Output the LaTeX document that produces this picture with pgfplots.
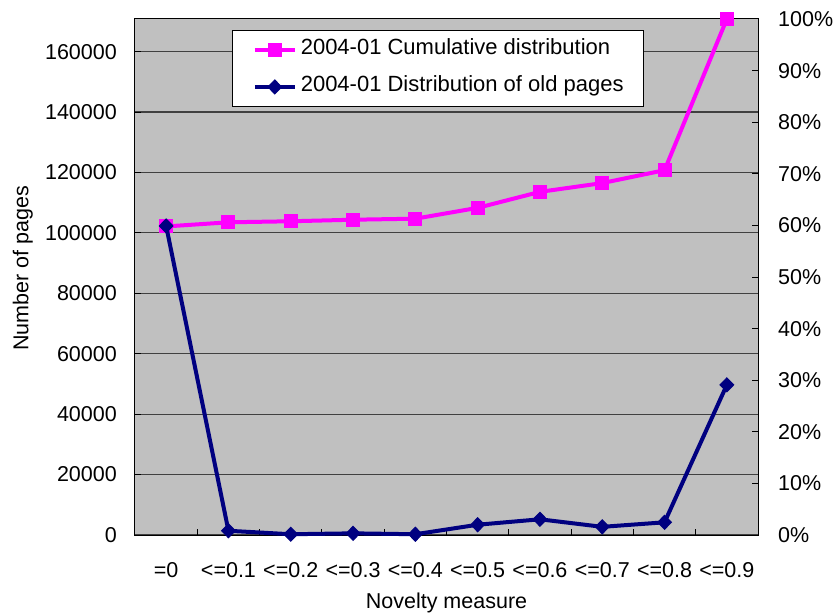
\documentclass[border=0pt]{standalone}
\usepackage{pgfplots}
\pgfplotsset{compat=1.18}
\usepackage{fontspec}
\setmainfont{Liberation Sans}
\definecolor{bggray}{HTML}{C0C0C0}
\definecolor{navyc}{HTML}{000080}
\definecolor{pinkm}{HTML}{FF00FF}
\begin{document}
\begin{tikzpicture}[font=\fontsize{21.5}{25}\selectfont]
\pgfplotsset{
  base/.style={scale only axis, width=623pt, height=516pt, xmin=-0.5, xmax=9.5,
    at={(0,0)}, anchor=south west, clip=false, major tick length=6pt, scaled y ticks=false},
}
\begin{axis}[base, name=ax, ymin=0, ymax=170800,
  axis background/.style={fill=bggray},
  axis line style={line width=1pt, black},
  tick align=inside,
  ytick={0,20000,...,160000},
  yticklabels={0,20000,40000,60000,80000,100000,120000,140000,160000},
  ytick pos=left,
  yticklabel style={anchor=east, inner sep=0pt, xshift=-18pt},
  xtick={0.5,1.5,...,8.5}, xticklabels={}, xtick pos=bottom,
  extra x ticks={0,1,2,3,4,5,6,7,8,9},
  extra x tick labels={{=0},{<=0.1},{<=0.2},{<=0.3},{<=0.4},{<=0.5},{<=0.6},{<=0.7},{<=0.8},{<=0.9}},
  extra x tick style={grid=none, major tick length=0pt,
    xticklabel style={anchor=base, inner sep=0pt, yshift=-42pt}},
  tick style={black, line width=1pt},
  ymajorgrids, grid style={color=black!75, line width=1.2pt},
  xlabel={Novelty measure},
  xlabel style={at={(axis description cs:0.5,-0.1434)}, anchor=base},
  ylabel={Number of pages},
  ylabel style={at={(axis description cs:-0.171,0.517)}, anchor=base},
  legend image code/.code={\draw[mark repeat=2,mark phase=2,#1] plot coordinates {(0pt,0pt) (20pt,0pt) (40pt,0pt)};},
  legend style={at={(0.156,0.979)}, anchor=north west, draw=black, line width=1.2pt, fill=white,
    inner xsep=20pt, inner ysep=10pt, row sep=18pt, column sep=4pt,
    nodes={inner sep=0pt, text height=14pt, text depth=5pt, anchor=west}},
  legend cell align=left,
]
\addlegendimage{pinkm, line width=4pt, mark=square*, mark size=6.5pt, mark options={line width=1pt, solid}}
\addlegendentry{\fontsize{22}{25}\selectfont 2004-01 Cumulative distribution\hspace{50pt}}
\addlegendimage{navyc, line width=4pt, mark=diamond*, mark size=7pt, mark options={line width=1pt, solid, xscale=1.3}}
\addlegendentry{\fontsize{22}{25}\selectfont 2004-01 Distribution of old pages}
\end{axis}
\begin{axis}[base, ymin=0, ymax=100,
  axis y line*=right, axis x line=none, tick align=inside,
  axis line style={line width=1pt, black},
  tick style={black, line width=1pt},
  ytick={0,10,...,100},
  yticklabels={0\%,10\%,20\%,30\%,40\%,50\%,60\%,70\%,80\%,90\%,100\%},
  yticklabel style={anchor=west, inner sep=0pt, xshift=20pt},
]
\addplot[pinkm, line width=4pt, mark=square*, mark size=6.5pt, mark options={line width=1pt, solid}]
  coordinates {(0,59.8) (1,60.6) (2,60.8) (3,61.1) (4,61.3) (5,63.4) (6,66.5) (7,68.2) (8,70.7) (9,100)};
\end{axis}
\begin{axis}[base, ymin=0, ymax=170800, hide axis]
\addplot[navyc, line width=4pt, mark=diamond*, mark size=7pt, mark options={line width=1pt, solid, xscale=1.3}]
  coordinates {(0,102300) (1,1400) (2,250) (3,550) (4,250) (5,3400) (6,5200) (7,2700) (8,4200) (9,49700)};
\end{axis}
\pgfresetboundingbox
\path ([shift={(-135pt,-79pt)}]ax.south west) rectangle ([shift={(76pt,19pt)}]ax.north east);
\end{tikzpicture}
\end{document}
